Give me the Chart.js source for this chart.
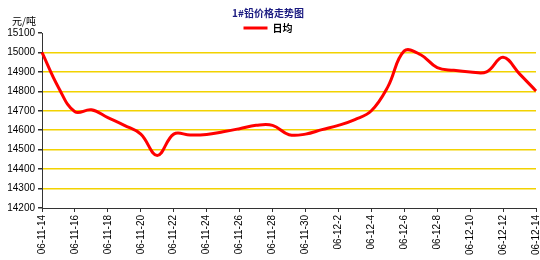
<!DOCTYPE html>
<html>
<head>
<meta charset="utf-8">
<script src="https://cdn.jsdelivr.net/npm/chart.js@4.4.1/dist/chart.umd.min.js"></script>
<style>
  html, body { margin: 0; padding: 0; background: #fff; }
  #wrap { position: relative; width: 540px; height: 260px; }
  #unit { position: absolute; left: 12px; top: 13px; font: 10px "Noto Sans CJK SC", sans-serif; color: #000; }
</style>
</head>
<body>
<div id="wrap">
  <canvas id="leadChart" width="540" height="260"></canvas>
  <div id="unit">元/吨</div>
</div>
<script>
// Dates (one per day) and daily average price, 元/吨
var dates = [
  '06-11-14', '06-11-15', '06-11-16', '06-11-17', '06-11-18', '06-11-19', '06-11-20', '06-11-21',
  '06-11-22', '06-11-23', '06-11-24', '06-11-25', '06-11-26', '06-11-27', '06-11-28', '06-11-29',
  '06-11-30', '06-12-1', '06-12-2', '06-12-3', '06-12-4', '06-12-5', '06-12-6', '06-12-7',
  '06-12-8', '06-12-9', '06-12-10', '06-12-11', '06-12-12', '06-12-13', '06-12-14'
];
var dailyAvg = [
  15000, 14820, 14695, 14705, 14665, 14625, 14580, 14470,
  14580, 14575, 14578, 14592, 14608, 14625, 14625, 14577,
  14580, 14603, 14625, 14655, 14700, 14823, 15008, 14988,
  14922, 14908, 14900, 14900, 14975, 14890, 14802
];
var yTicks = [14200, 14300, 14400, 14500, 14600, 14700, 14800, 14900, 15000, 15100];

var ctx = document.getElementById('leadChart').getContext('2d');
var chart = new Chart(ctx, {
  type: 'line',
  data: {
    labels: dates,
    datasets: [{
      label: '日均',
      data: dailyAvg,
      borderColor: '#FF0000',
      backgroundColor: '#FF0000',
      borderWidth: 3,
      pointRadius: 0,
      tension: 0.4,
      fill: false
    }]
  },
  options: {
    responsive: false,
    animation: false,
    layout: { padding: { top: 0, right: 4, left: 0, bottom: 0 } },
    plugins: {
      title: {
        display: true,
        text: '1#铅价格走势图',
        color: '#1A1A80',
        font: { size: 10, weight: 'bold', family: '"Noto Sans CJK SC", sans-serif' },
        padding: { top: 7, bottom: 4 }
      },
      legend: {
        display: true,
        position: 'top',
        labels: {
          usePointStyle: true,
          pointStyle: 'line',
          pointStyleWidth: 24,
          color: '#000',
          font: { size: 10, weight: 'bold', family: '"Noto Sans CJK SC", sans-serif' },
          padding: 0
        }
      },
      tooltip: { enabled: false }
    },
    scales: {
      x: {
        ticks: {
          autoSkip: false,
          maxRotation: 90,
          minRotation: 90,
          color: '#000',
          font: { size: 10, family: 'Arial, "Liberation Sans", sans-serif' },
          callback: function (value, index) {
            return index % 2 === 0 ? dates[index] : '';
          }
        },
        grid: {
          drawOnChartArea: false,
          drawTicks: true,
          tickLength: 4,
          tickColor: function (c) { return c.index % 2 === 0 ? '#333' : 'rgba(0,0,0,0)'; }
        },
        border: { color: '#333', width: 1 },
        afterFit: function (scale) {
          scale.height = 52;
          scale.paddingRight = 0;
          scale.paddingLeft = 0;
        }
      },
      y: {
        min: 14200,
        max: 15100,
        afterBuildTicks: function (scale) {
          scale.ticks = yTicks.map(function (v) { return { value: v }; });
        },
        ticks: {
          color: '#000',
          padding: 3,
          font: { size: 10, family: 'Arial, "Liberation Sans", sans-serif' },
          callback: function (value) { return String(value); }
        },
        grid: {
          color: function (c) {
            var v = c.tick && c.tick.value;
            return (v === 15100 || v === 14200) ? 'rgba(0,0,0,0)' : '#F2D200';
          },
          lineWidth: 1.5,
          tickLength: 4,
          tickColor: '#333'
        },
        border: { color: '#333', width: 1 },
        afterFit: function (scale) {
          scale.width = 42;
          scale.paddingTop = 0;
        }
      }
    }
  }
});

// the legend sits partly over the top of the plot, so keep its box short
var legendFit = chart.legend.fit;
chart.legend.fit = function () {
  legendFit.call(this);
  this.height = 10;
};
chart.update();
</script>
</body>
</html>
